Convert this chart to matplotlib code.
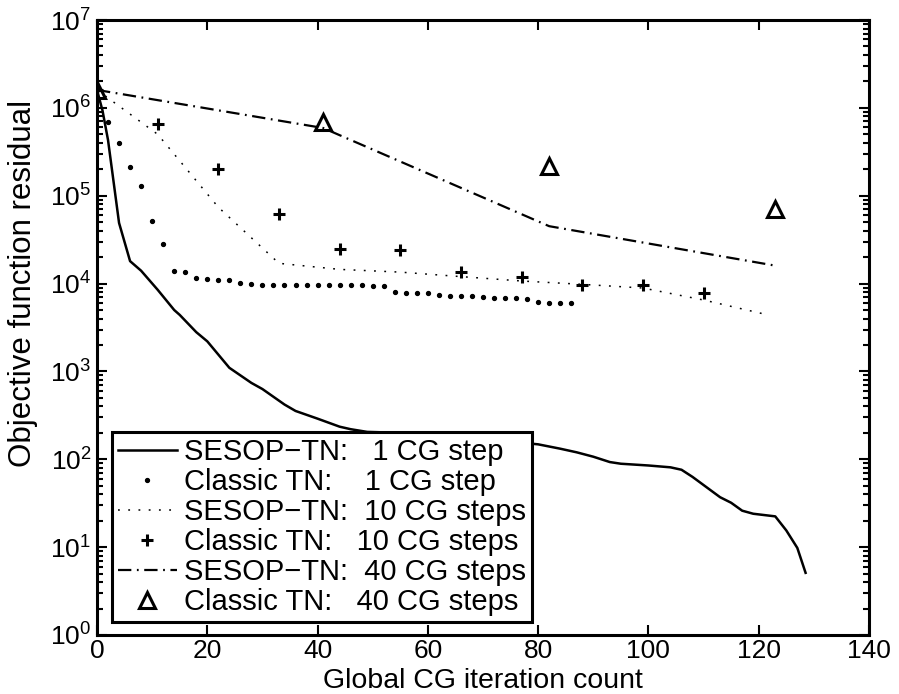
"""
SESOP-TN vs classic TN: objective residual against global CG iteration count
"""

import numpy as np
import matplotlib
matplotlib.use("Agg")
import matplotlib.pyplot as plt
from matplotlib.ticker import LogLocator, NullFormatter, MultipleLocator

plt.rcParams['font.family'] = ['Liberation Sans', 'DejaVu Sans']
plt.rcParams['mathtext.fontset'] = 'custom'
plt.rcParams['mathtext.rm'] = 'Liberation Sans'
plt.rcParams['mathtext.it'] = 'Liberation Sans'

# SESOP-TN, 1 CG step (solid)
sesop1_x = [0, 1, 2, 4, 6, 8, 11, 14, 15, 18, 20, 24, 28, 30, 34, 36, 40, 44, 46,
            49, 55, 60, 70, 80, 84, 87, 90, 93, 95, 100, 104, 106, 108, 113, 115,
            117, 119, 123, 125, 127, 128.5]
sesop1_y = [1.6e6, 9.3e5, 4.3e5, 4.9e4, 1.8e4, 1.4e4, 8.5e3, 5.0e3, 4.4e3, 2.8e3,
            2.2e3, 1.1e3, 740, 630, 420, 355, 290, 235, 220, 205, 200, 190, 170,
            148, 132, 120, 107, 93, 89, 85, 81, 76, 63, 37, 32, 26, 24, 22.4,
            15.5, 9.8, 5.1]

# Classic TN, 1 CG step (dots)
classic1_x = list(range(0, 88, 2))
classic1_y = [1.6e6, 6.9e5, 4.0e5, 2.1e5, 1.3e5, 5.2e4, 2.8e4, 1.4e4, 1.35e4,
              1.17e4, 1.12e4, 1.1e4, 1.1e4, 1.02e4, 9.8e3, 9.6e3, 9.6e3, 9.6e3,
              9.6e3, 9.6e3, 9.6e3, 9.6e3, 9.6e3, 9.6e3, 9.6e3, 9.3e3, 9.3e3,
              8.1e3, 7.9e3, 7.9e3, 7.9e3, 7.4e3, 7.2e3, 7.2e3, 7.2e3, 7.1e3,
              6.9e3, 6.8e3, 6.8e3, 6.6e3, 6.2e3, 6.0e3, 6.0e3, 6.0e3]

# SESOP-TN, 10 CG steps (dotted)
sesop10_x = [0, 11, 22, 33, 44, 55, 66, 77, 88, 99, 110, 121]
sesop10_y = [1.6e6, 5.0e5, 7.4e4, 1.7e4, 1.45e4, 1.35e4, 1.2e4, 1.07e4, 9.8e3,
             8.9e3, 6.5e3, 4.5e3]

# Classic TN, 10 CG steps (+)
classic10_x = [0, 11, 22, 33, 44, 55, 66, 77, 88, 99, 110]
classic10_y = [1.6e6, 6.6e5, 2.0e5, 6.2e4, 2.5e4, 2.4e4, 1.35e4, 1.2e4, 9.6e3,
               9.6e3, 7.8e3]

# SESOP-TN, 40 CG steps (dash-dot)
sesop40_x = [0, 41, 82, 123]
sesop40_y = [1.6e6, 5.9e5, 4.5e4, 1.6e4]

# Classic TN, 40 CG steps (triangles)
classic40_x = [0, 41, 82, 123]
classic40_y = [1.6e6, 6.9e5, 2.2e5, 7.0e4]

labels = ['SESOP\u2212TN:   1 CG step',
          'Classic TN:    1 CG step',
          'SESOP\u2212TN:  10 CG steps',
          'Classic TN:   10 CG steps',
          'SESOP\u2212TN:  40 CG steps',
          'Classic TN:   40 CG steps']


def main():
    fig = plt.figure(figsize=(8.99, 6.94), dpi=100)
    ax = fig.add_axes([97 / 899, 1 - 635 / 694, 772 / 899, 615 / 694])

    ax.plot(sesop1_x, sesop1_y, 'k-', lw=1.8, label=labels[0])
    ax.plot(classic1_x, classic1_y, 'k', ls='none', marker='o', ms=2.8,
            label=labels[1])
    ax.plot(sesop10_x, sesop10_y, 'k', lw=1.1, ls=(0, (1.2, 5.5)),
            label=labels[2])
    ax.plot(classic10_x, classic10_y, 'k', ls='none', marker='+', ms=9, mew=2.2,
            label=labels[3])
    ax.plot(sesop40_x, sesop40_y, 'k', lw=1.6, ls=(0, (6, 2.5, 0.8, 2.5)),
            label=labels[4])
    ax.plot(classic40_x, classic40_y, 'k', ls='none', marker='^', ms=11.5,
            mew=2.2, mfc='none', label=labels[5])

    ax.set_yscale('log')
    ax.set_xlim(0, 140)
    ax.set_ylim(1, 1e7)
    ax.xaxis.set_major_locator(MultipleLocator(20))
    ax.yaxis.set_major_locator(LogLocator(base=10, numticks=10))
    ax.yaxis.set_minor_locator(LogLocator(base=10, subs=np.arange(2, 10), numticks=20))
    ax.yaxis.set_minor_formatter(NullFormatter())

    ax.tick_params(which='both', direction='in', top=True, right=True,
                   labelsize=19, width=1.5)
    ax.tick_params(which='major', length=7)
    ax.tick_params(which='minor', length=4)
    ax.tick_params(axis='y', which='major', pad=4)
    ax.tick_params(axis='x', which='major', pad=3)
    for s in ax.spines.values():
        s.set_linewidth(2.2)

    ax.set_xlabel('Global CG iteration count', fontsize=20.5)
    ax.xaxis.set_label_coords(0.5, -0.054)
    ax.xaxis.label.set_va('top')
    ax.set_ylabel('Objective function residual', fontsize=22.5)
    ax.yaxis.set_label_coords(-0.077, 0.572)

    leg = ax.legend(loc='lower left', bbox_to_anchor=(0.02, 0.021),
                    borderaxespad=0, fontsize=21, fancybox=False,
                    edgecolor='k', framealpha=1, handlelength=2.0,
                    handletextpad=0.25, labelspacing=0.07, borderpad=0.2)
    leg.get_frame().set_linewidth(2.2)

    fig.savefig('out.png', dpi=100)


if __name__ == '__main__':
    main()
